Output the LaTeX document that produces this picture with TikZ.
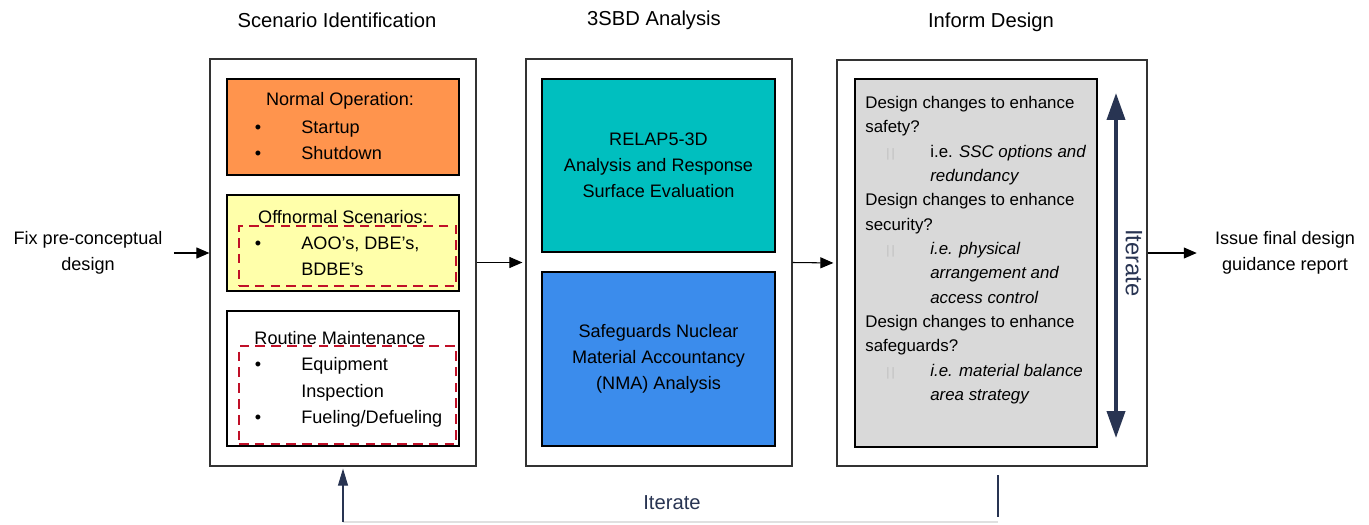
\documentclass[tikz,border=0pt]{standalone}
\usepackage{fontspec}
\setmainfont{Liberation Sans}
\usepackage{xcolor}
\usetikzlibrary{arrows.meta,fit}
\definecolor{opOrange}{RGB}{255,148,77}
\definecolor{offYellow}{RGB}{255,255,170}
\definecolor{dashRed}{RGB}{192,16,40}
\definecolor{relapTeal}{RGB}{0,191,191}
\definecolor{nmaBlue}{RGB}{59,140,236}
\definecolor{boxGray}{RGB}{217,217,217}
\definecolor{iterNavy}{RGB}{40,52,82}
\newcommand{\iemark}{\hspace*{0.42cm}\makebox[0.88cm][l]{\color{black!25}\scriptsize|\,|}}
\newcommand{\iecont}{\hspace*{1.3cm}}

\begin{document}
\begin{tikzpicture}[x=0.02cm,y=-0.02cm,
outerbox/.style={draw=black!80,line width=0.7pt,inner sep=0pt},
innerbox/.style={draw=black,line width=1.2pt,inner sep=0pt},
redbox/.style={draw=dashRed,line width=1pt,dash pattern=on 5.5pt off 3.5pt,inner sep=0pt},
txt/.style={font=\fontsize{10.3}{14.8}\selectfont,inner sep=0pt},
title/.style={font=\fontsize{11.5}{14}\selectfont,inner sep=0pt},
flow/.style={-{Triangle[length=0.26cm,width=0.22cm]},line width=0.6pt}]
\useasboundingbox (0,0) rectangle (1369,524);

% titles
\node[title] (tscen) at (337,20) {Scenario Identification};
\node[title] (tanal) at (654,20) {3SBD Analysis};
\node[title] (tinform) at (991,22) {Inform Design};

% scenario identification
\node[outerbox,fit={(210,59)(476,466)}] (scen) {};
\node[innerbox,fill=opOrange,fit={(227,79)(459,175)}] (normal) {};
\node[innerbox,fill=offYellow,fit={(227,195)(459,291)}] (offnorm) {};
\node[redbox,fit={(239,226)(456,286)}] (offdash) {};
\node[innerbox,fill=white,fit={(227,311)(459,446)}] (routine) {};
\node[redbox,fit={(239,346)(456,444)}] (routdash) {};

\node[txt] (normalhd) at (340,101) {Normal Operation:};
\node[txt,anchor=base] (b1) at (258,133.5) {•};
\node[txt,anchor=base west] (startup) at (301,133.5) {Startup};
\node[txt,anchor=base] (b2) at (258,159.5) {•};
\node[txt,anchor=base west] (shutdown) at (301,159.5) {Shutdown};

\node[txt] (offhd) at (343,217) {Offnormal Scenarios:};
\node[txt,anchor=base] (b3) at (258,249.5) {•};
\node[txt,anchor=base west] (aoo) at (301,249.5) {AOO’s, DBE’s,};
\node[txt,anchor=base west] (bdbe) at (301,275.5) {BDBE’s};

\node[txt] (routhd) at (340,338) {Routine Maintenance};
\node[txt,anchor=base] (b4) at (258,370.5) {•};
\node[txt,anchor=base west] (equip) at (301,370.5) {Equipment};
\node[txt,anchor=base west] (insp) at (301,397) {Inspection};
\node[txt,anchor=base] (b5) at (258,423.5) {•};
\node[txt,anchor=base west] (fuel) at (301,423.5) {Fueling/Defueling};

% 3SBD analysis
\node[outerbox,fit={(526,59)(792,466)}] (anal) {};
\node[innerbox,fill=relapTeal,fit={(542,79)(775,252)}] (relap) {};
\node[txt,align=center] (relaptxt) at (relap) {RELAP5-3D\\Analysis and Response\\Surface Evaluation};
\node[innerbox,fill=nmaBlue,fit={(542,272)(775,446)}] (nma) {};
\node[txt,align=center] (nmatxt) at (nma) {Safeguards Nuclear\\Material Accountancy\\(NMA) Analysis};

% inform design
\node[outerbox,fit={(837,60)(1147,466)}] (inform) {};
\node[innerbox,fill=boxGray,fit={(855,79)(1097,447)}] (changes) {};
\node[font=\fontsize{9.6}{13.85}\selectfont,align=left,anchor=north west,inner sep=0pt] (qs) at (865,96) {%
Design changes to enhance\\
safety?\\
\iemark i.e. \textit{SSC options and}\\
\iecont\textit{redundancy}\\
Design changes to enhance\\
security?\\
\iemark\textit{i.e. physical}\\
\iecont\textit{arrangement and}\\
\iecont\textit{access control}\\
Design changes to enhance\\
safeguards?\\
\iemark\textit{i.e. material balance}\\
\iecont\textit{area strategy}};
\coordinate (ittop) at (1116,93);
\coordinate (itbot) at (1116,438);
\draw[iterNavy,line width=2.2pt,{Triangle[length=0.54cm,width=0.36cm]}-{Triangle[length=0.54cm,width=0.36cm]}] (ittop) -- (itbot);
\node[rotate=-90,text=iterNavy,font=\fontsize{13.5}{16}\selectfont,inner sep=0pt] (itside) at (1134,263) {Iterate};

% in and out
\node[txt,align=center] (fix) at (88,253) {Fix pre-conceptual\\design};
\node[txt,align=center] (issue) at (1285,253) {Issue final design\\guidance report};
\draw[flow,shorten <=0.22cm] (fix.east) -- (fix.east -| scen.west);
\draw[flow,shorten >=0.06cm] (scen.east) -- (anal.west);
\draw[flow,shorten >=0.06cm] (anal.east) -- (inform.west);
\draw[flow,shorten >=0.36cm] (inform.east |- issue.west) -- (issue.west);

% feedback loop
\coordinate (fba) at (998,475);
\coordinate (fbb) at (998,517);
\coordinate (fbc) at (343,522);
\draw[iterNavy,line width=0.6pt] (fba) -- (fbb);
\draw[black!12,line width=0.8pt] (fbb |- fbc) -- (fbc);
\draw[iterNavy,line width=0.6pt,-{Triangle[length=0.34cm,width=0.2cm]},shorten >=0.04cm] (fbc) -- (scen.south -| fbc);
\node[text=iterNavy,font=\fontsize{11.5}{14}\selectfont,inner sep=0pt] (itbottom) at (672,503) {Iterate};
\end{tikzpicture}
\end{document}
